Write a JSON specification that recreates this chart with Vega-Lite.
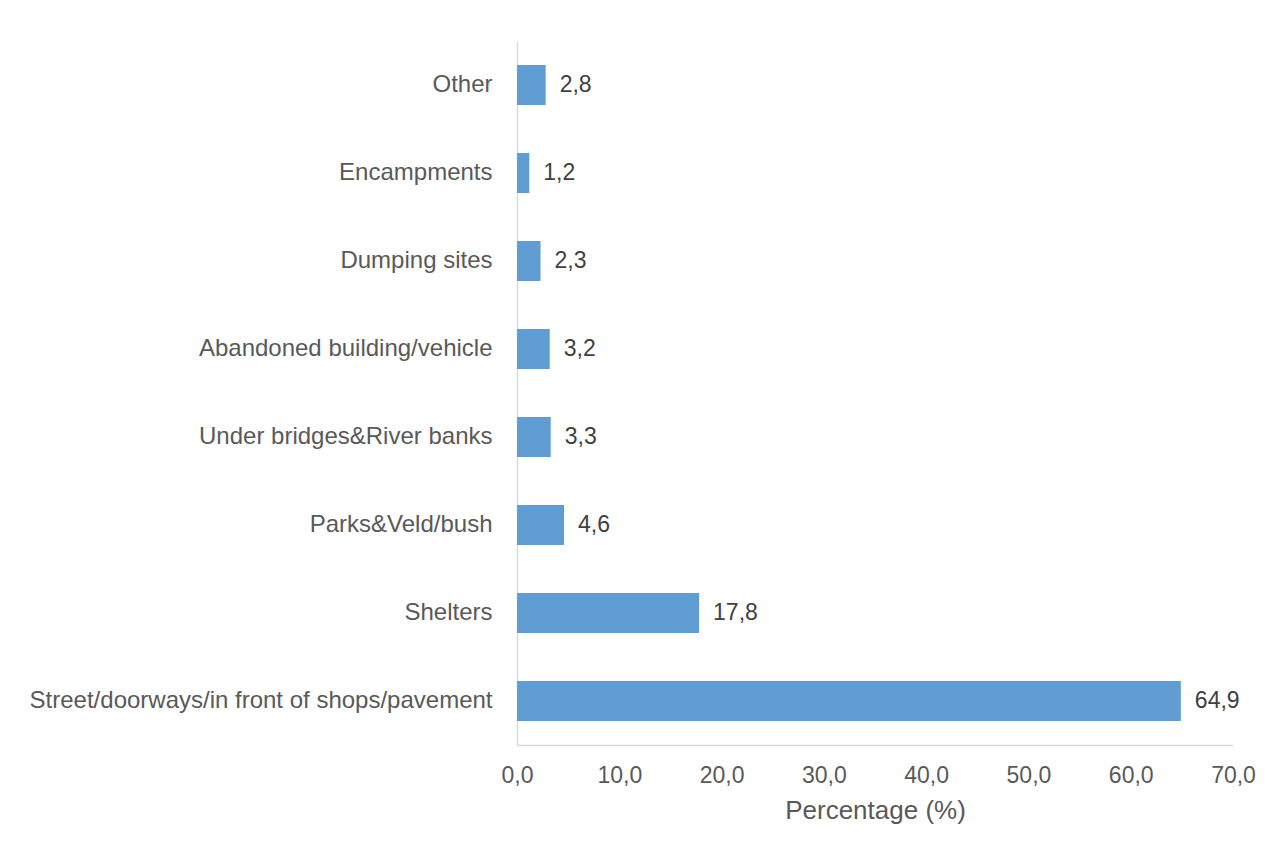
{
  "$schema": "https://vega.github.io/schema/vega-lite/v6.json",
  "autosize": {"type": "none"},
  "padding": {"left": 517, "top": 41, "right": 41, "bottom": 107},
  "width": 716,
  "height": 704,
  "background": "white",
  "config": {
    "locale": {"number": {"decimal": ",", "thousands": ".", "grouping": [3], "currency": ["", ""]}},
    "view": {"stroke": null},
    "font": "Liberation Sans"
  },
  "data": {
    "values": [
      {"location": "Other", "pct": 2.8},
      {"location": "Encampments", "pct": 1.2},
      {"location": "Dumping sites", "pct": 2.3},
      {"location": "Abandoned building/vehicle", "pct": 3.2},
      {"location": "Under bridges&River banks", "pct": 3.3},
      {"location": "Parks&Veld/bush", "pct": 4.6},
      {"location": "Shelters", "pct": 17.8},
      {"location": "Street/doorways/in front of shops/pavement", "pct": 64.9}
    ]
  },
  "encoding": {
    "y": {
      "field": "location",
      "type": "nominal",
      "sort": null,
      "scale": {"paddingInner": 0.545, "paddingOuter": 0.2725},
      "axis": {
        "title": null,
        "ticks": false,
        "domainColor": "#d9d9d9",
        "domainWidth": 1.5,
        "labelFontSize": 24,
        "labelColor": "#595959",
        "labelPadding": 25,
        "labelLimit": 600
      }
    },
    "x": {
      "field": "pct",
      "type": "quantitative",
      "scale": {"domain": [0, 70]},
      "axis": {
        "title": "Percentage (%)",
        "format": ".1f",
        "values": [0, 10, 20, 30, 40, 50, 60, 70],
        "grid": false,
        "ticks": false,
        "labelFlush": false,
        "labelOverlap": false,
        "domainColor": "#d9d9d9",
        "domainWidth": 1.5,
        "labelFontSize": 23,
        "labelColor": "#595959",
        "labelPadding": 19,
        "titleFontSize": 26,
        "titleFontWeight": "normal",
        "titleColor": "#595959",
        "titlePadding": 10
      }
    }
  },
  "layer": [
    {"mark": {"type": "bar", "color": "#5f9dd3"}},
    {
      "mark": {"type": "text", "align": "left", "baseline": "middle", "dx": 14, "fontSize": 23, "color": "#404040"},
      "encoding": {"text": {"field": "pct", "type": "quantitative", "format": ".1f"}}
    }
  ]
}
